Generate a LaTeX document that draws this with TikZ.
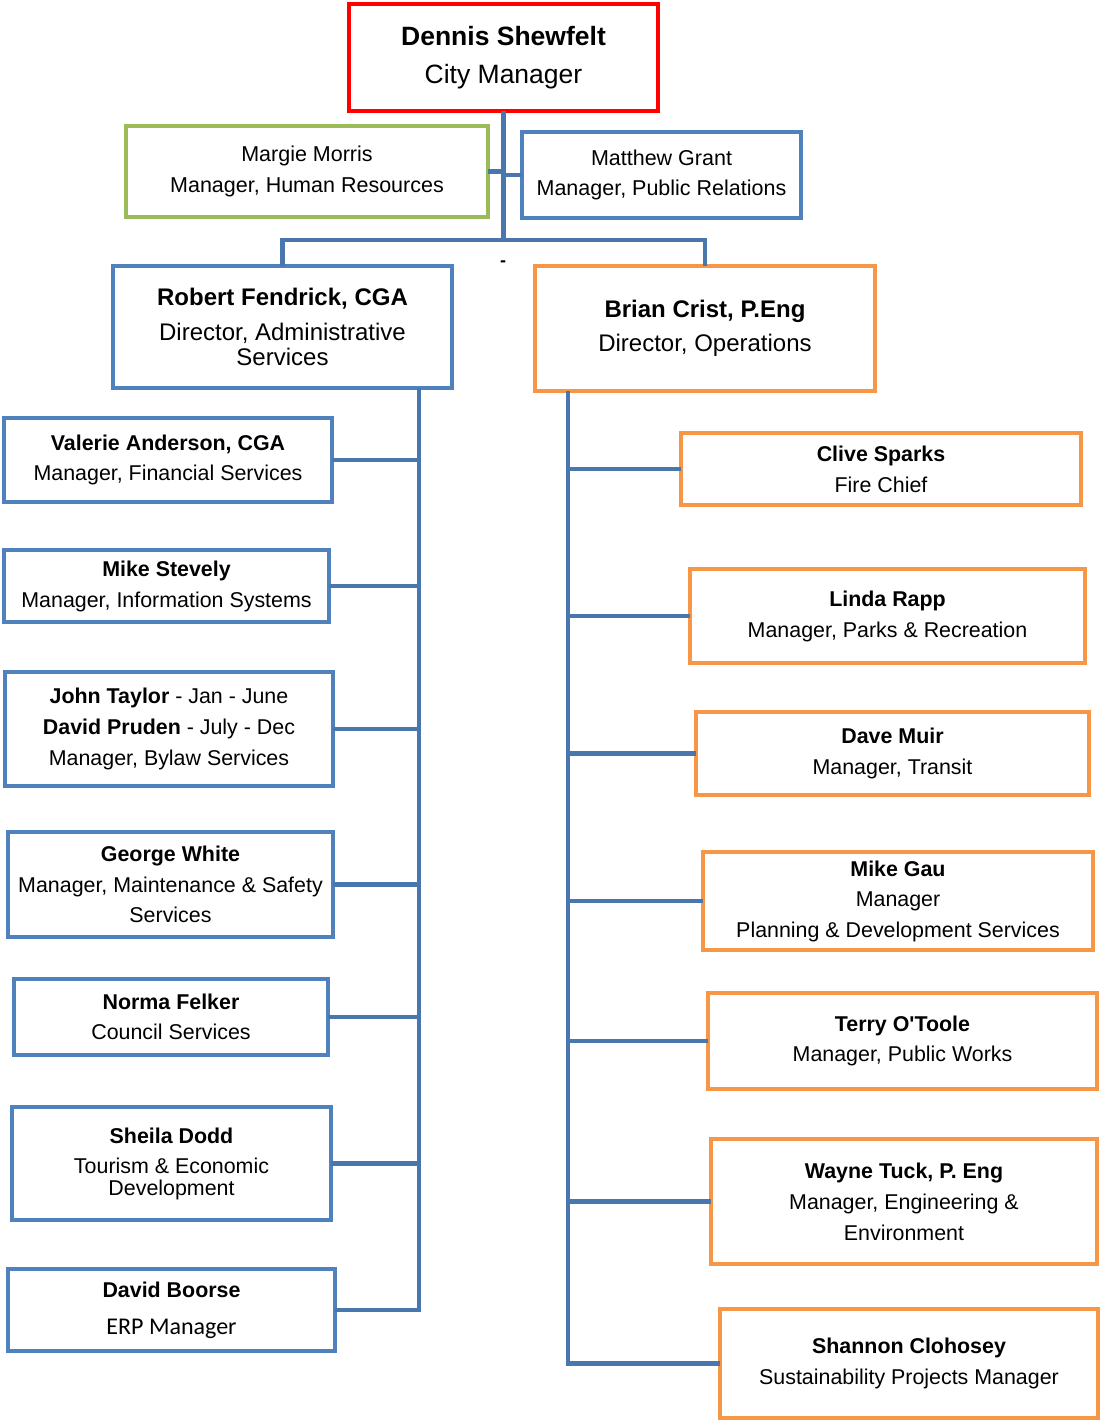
\documentclass[tikz,border=0pt]{standalone}
\usepackage{fontspec}
\setmainfont{Liberation Sans}
\newfontfamily\calib{Carlito}
\definecolor{cblue}{HTML}{4F81BD}
\definecolor{cline}{HTML}{4A76AE}
\definecolor{corange}{HTML}{F79646}
\definecolor{cgreen}{HTML}{9BBB59}
\definecolor{cred}{HTML}{FF0000}
\tikzset{
  box/.style={draw, line width=4pt, fill=white, align=center, inner sep=0pt,
    font=\fontsize{21.4}{31}\selectfont},
  bluebox/.style={box, draw=cblue},
  orbox/.style={box, draw=corange},
  conn/.style={draw=cline, line width=4.5pt, line cap=rect, line join=miter},
}
\begin{document}
\begin{tikzpicture}[x=1pt,y=-1pt]
\useasboundingbox (0,0) rectangle (1102,1422);
% top
\node[box, draw=cred, line width=4.5pt, minimum width=309, minimum height=107, font=\fontsize{26.5}{38}\selectfont] (dennis) at (503.5,57.5) {\textbf{Dennis Shewfelt}\\City Manager};
\node[box, draw=cgreen, minimum width=362, minimum height=91, font=\fontsize{21.5}{31}\selectfont] (margie) at (307,171.5) {Margie Morris\\Manager, Human Resources};
\node[bluebox, minimum width=279, minimum height=86, font=\fontsize{21.5}{30}\selectfont] (matthew) at (661.5,175) {Matthew Grant\\Manager, Public Relations};
\node[bluebox, minimum width=339, minimum height=122, font=\fontsize{24}{25}\selectfont] (robert) at (282.5,327) {\textbf{Robert Fendrick, CGA}\\[10pt]Director, Administrative\\Services};
\node[orbox, minimum width=340, minimum height=125, font=\fontsize{24}{34}\selectfont] (brian) at (705,328.5) {\textbf{Brian Crist, P.Eng}\\Director, Operations};
\node[font=\bfseries\fontsize{18}{18}\selectfont] (dash) at (503,264) {-};
% left column
\node[bluebox, minimum width=328, minimum height=84, font=\fontsize{21.4}{30}\selectfont] (valerie) at (168,460) {\textbf{Valerie Anderson, CGA}\\Manager, Financial Services};
\node[bluebox, minimum width=325, minimum height=72] (mikes) at (166.5,586) {\textbf{Mike Stevely}\\Manager, Information Systems};
\node[bluebox, minimum width=328, minimum height=114] (john) at (169,729) {\textbf{John Taylor} - Jan - June\\\textbf{David Pruden} - July - Dec\\Manager, Bylaw Services};
\node[bluebox, minimum width=325, minimum height=105, font=\fontsize{21.4}{30.5}\selectfont] (george) at (170.5,884.5) {\textbf{George White}\\Manager, Maintenance \& Safety\\Services};
\node[bluebox, minimum width=314, minimum height=76, font=\fontsize{21.4}{30}\selectfont] (norma) at (171,1017) {\textbf{Norma Felker}\\Council Services};
\node[bluebox, minimum width=319, minimum height=113, font=\fontsize{21.4}{22}\selectfont] (sheila) at (171.5,1163.5) {\textbf{Sheila Dodd}\\[8pt]Tourism \& Economic\\Development};
\node[bluebox, minimum width=327, minimum height=82, font=\fontsize{21.4}{37}\selectfont] (davidb) at (171.5,1310) {\textbf{David Boorse}\\{\calib\fontsize{24}{37}\selectfont ERP Manager}};
% right column
\node[orbox, minimum width=400, minimum height=72] (clive) at (881,469) {\textbf{Clive Sparks}\\Fire Chief};
\node[orbox, minimum width=395, minimum height=94] (linda) at (887.5,616) {\textbf{Linda Rapp}\\Manager, Parks \& Recreation};
\node[orbox, minimum width=393, minimum height=83] (dave) at (892.5,753.5) {\textbf{Dave Muir}\\Manager, Transit};
\node[orbox, minimum width=390, minimum height=98, font=\fontsize{21.4}{30.5}\selectfont] (mikeg) at (898,901) {\textbf{Mike Gau}\\Manager\\Planning \& Development Services};
\node[orbox, minimum width=389, minimum height=96, font=\fontsize{21.4}{30}\selectfont] (terry) at (902.5,1041) {\textbf{Terry O\textquotesingle Toole}\\Manager, Public Works};
\node[orbox, minimum width=386, minimum height=125] (wayne) at (904,1201.5) {\textbf{Wayne Tuck, P. Eng}\\Manager, Engineering \&\\Environment};
\node[orbox, minimum width=378, minimum height=109] (shannon) at (909,1363.5) {\textbf{Shannon Clohosey}\\Sustainability Projects Manager};
% trunks
\coordinate (lt) at (419,0);
\coordinate (rt) at (568,0);
\coordinate (hub) at (503.5,240);
% top connectors
\draw[conn] (dennis.south) -- (hub);
\draw[conn] (robert.north) -- (robert.north |- hub) -- (brian.north |- hub) -- (brian.north);
\draw[conn] (margie.east) -- (margie.east -| dennis.south);
\draw[conn] (matthew.west) -- (matthew.west -| dennis.south);
% left trunk
\draw[conn] (robert.south -| lt) -- (davidb.east -| lt) -- (davidb.east);
\foreach \n in {valerie,mikes,john,george,norma,sheila}
  \draw[conn] (\n.east) -- (\n.east -| lt);
% right trunk
\draw[conn] (brian.south -| rt) -- (shannon.west -| rt) -- (shannon.west);
\foreach \n in {clive,linda,dave,mikeg,terry,wayne}
  \draw[conn] (\n.west) -- (\n.west -| rt);
\end{tikzpicture}
\end{document}
